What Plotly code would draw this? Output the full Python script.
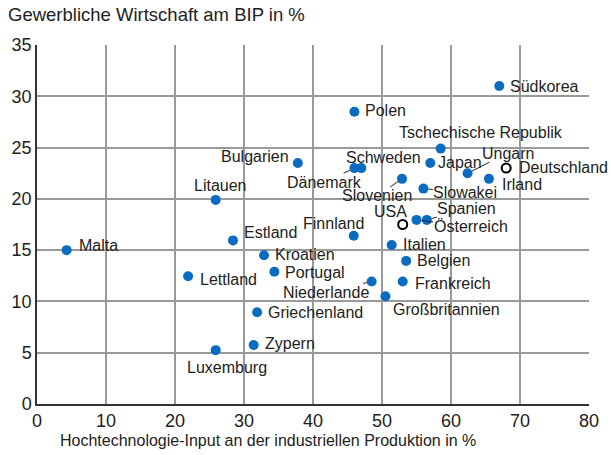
import plotly.graph_objects as go

# Daten: Hochtechnologie-Input (x) und gewerbliche Wirtschaft am BIP (y), in %
laender = ['Südkorea', 'Polen', 'Tschechische Republik', 'Bulgarien', 'Litauen',
           'Dänemark', 'Schweden', 'Slovenien', 'Japan', 'Ungarn', 'Irland',
           'Slowakei', 'Spanien', 'Österreich', 'Finnland', 'Italien', 'Belgien',
           'Frankreich', 'Niederlande', 'Großbritannien', 'Kroatien', 'Portugal',
           'Estland', 'Lettland', 'Malta', 'Griechenland', 'Zypern', 'Luxemburg']
hightech = [67.0, 46.0, 58.5, 37.8, 25.9,
            46.0, 47.0, 52.9, 57.0, 62.4, 65.5,
            56.0, 56.5, 55.0, 45.9, 51.4, 53.5,
            53.0, 48.5, 50.5, 32.9, 34.4,
            28.4, 21.9, 4.3, 31.9, 31.4, 25.9]
bip_anteil = [31.0, 28.5, 24.9, 23.5, 19.9,
              23.0, 23.0, 21.95, 23.5, 22.5, 21.95,
              21.0, 17.95, 17.95, 16.4, 15.5, 13.95,
              11.95, 11.95, 10.5, 14.5, 12.9,
              15.95, 12.45, 15.0, 8.95, 5.75, 5.25]

# Vergleichsländer (offene Kreise)
vergleich = ['Deutschland', 'USA']
vergleich_x = [68.0, 53.0]
vergleich_y = [23.0, 17.5]

x_ticks = [0, 10, 20, 30, 40, 50, 60, 70, 80]
y_ticks = [0, 5, 10, 15, 20, 25, 30, 35]

BLAU = '#0a6cc0'
TEXT = '#222222'
FONT = 'Liberation Sans, Arial, sans-serif'
LABEL_SIZE = 16

# Beschriftungspositionen (Pixel-Versatz vom Punkt)
# ohne Linie: (anchor, dx, dy nach unten)
label_pos = {
    'Südkorea': ('left', 9, 0), 'Polen': ('left', 9, -1),
    'Tschechische Republik': ('center', 40, -16), 'Bulgarien': ('right', -7, -6),
    'Litauen': ('center', 5, -14), 'Japan': ('left', 6, 0),
    'Deutschland': ('left', 11, -1), 'Irland': ('left', 11, 6),
    'Finnland': ('center', -20, -12), 'Italien': ('left', 9, -1),
    'Belgien': ('left', 9, 0), 'Frankreich': ('left', 10, 2),
    'Großbritannien': ('left', 6, 13), 'Kroatien': ('left', 9, -1),
    'Portugal': ('left', 9, 1), 'Estland': ('left', 9, -8),
    'Lettland': ('left', 10, 3), 'Malta': ('left', 10, -5),
    'Griechenland': ('left', 9, 0), 'Zypern': ('left', 9, -2),
    'Luxemburg': ('center', 11, 17),
}
# mit Hinweislinie: (ax, ay)
leader_pos = {
    'Dänemark': (-30, 14), 'Schweden': (22, -11), 'Slovenien': (-25, 17),
    'Ungarn': (40, -20), 'Slowakei': (42, 4), 'Spanien': (40, -11),
    'Österreich': (54, 7), 'USA': (-12, -13), 'Niederlande': (-46, 11),
}

fig = go.Figure()

fig.add_trace(go.Scatter(
    x=hightech, y=bip_anteil, mode='markers', text=laender,
    marker=dict(size=10, color=BLAU, line=dict(width=0)),
    hoverinfo='text+x+y', showlegend=False
))
fig.add_trace(go.Scatter(
    x=vergleich_x, y=vergleich_y, mode='markers', text=vergleich,
    marker=dict(size=9, color='white', line=dict(width=2, color='black')),
    hoverinfo='text+x+y', showlegend=False
))

alle_namen = laender + vergleich
alle_x = hightech + vergleich_x
alle_y = bip_anteil + vergleich_y

annotations = []
for name, px, py in zip(alle_namen, alle_x, alle_y):
    if name in leader_pos:
        ax, ay = leader_pos[name]
        annotations.append(dict(
            x=px, y=py, text=name, showarrow=True, arrowhead=0,
            arrowwidth=1, arrowcolor=TEXT, ax=ax, ay=ay, standoff=5,
            borderpad=0, font=dict(size=LABEL_SIZE, color=TEXT, family=FONT)
        ))
    else:
        anchor, dx, dy = label_pos[name]
        annotations.append(dict(
            x=px, y=py, text=name, showarrow=False, xanchor=anchor,
            yanchor='middle', xshift=dx, yshift=-dy,
            font=dict(size=LABEL_SIZE, color=TEXT, family=FONT)
        ))

# Achsentitel x
annotations.append(dict(
    x=0.419, y=-0.103, xref='paper', yref='paper', showarrow=False,
    text='Hochtechnologie-Input an der industriellen Produktion in %',
    xanchor='center', yanchor='middle',
    font=dict(size=16, color=TEXT, family=FONT)
))

fig.update_layout(
    width=611, height=455,
    margin=dict(l=36, r=18, t=45, b=51),
    paper_bgcolor='white', plot_bgcolor='white',
    font=dict(family=FONT, color=TEXT),
    title=dict(text='Gewerbliche Wirtschaft am BIP in %', xref='container',
               x=8 / 611, xanchor='left', y=1 - 15 / 455, yanchor='middle',
               font=dict(size=18.5, color=TEXT, family=FONT)),
    annotations=annotations,
    xaxis=dict(
        range=[0, 80], tickvals=x_ticks, showgrid=True, gridcolor='#9a9a9a',
        gridwidth=1.5, zeroline=False, showline=True, linecolor='#333333',
        linewidth=1.5, ticks='', tickfont=dict(size=18, color=TEXT),
        fixedrange=True
    ),
    yaxis=dict(
        range=[0, 35], tickvals=y_ticks, showgrid=True, gridcolor='#9a9a9a',
        gridwidth=1.5, zeroline=False, showline=True, linecolor='#333333',
        linewidth=1.5, ticks='', tickfont=dict(size=18, color=TEXT),
        fixedrange=True
    ),
)

fig.write_html('out.html', config={'displayModeBar': False},
               post_script="document.body.style.margin='0';"
                           "document.body.style.overflow='hidden';")
